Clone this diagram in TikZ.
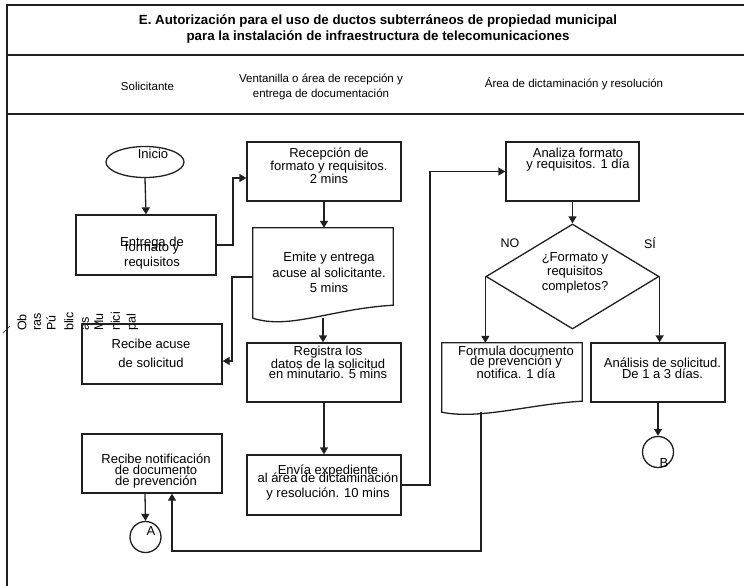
\documentclass[tikz,border=0pt]{standalone}
\usepackage{fontspec}
\setmainfont{Liberation Sans}
\usetikzlibrary{arrows.meta,shapes.geometric,positioning}

\begin{document}
\begin{tikzpicture}[x=1pt,y=-1pt]
  \tikzset{
    linea/.style={draw=gray!25!black,line width=1.3pt},
    marco/.style={draw=gray!25!black,line width=1.8pt},
    caja/.style={linea,rectangle,inner sep=0pt},
    txt/.style={align=center,inner sep=0pt,font=\fontsize{13}{15}\selectfont},
    hdr/.style={align=center,inner sep=0pt,font=\fontsize{11.5}{14.5}\selectfont},
    flujo/.style={linea,-{Triangle[length=7pt,width=8pt]}},
    conector/.style={linea,circle,minimum size=31pt,inner sep=0pt},
  }
  \useasboundingbox (0,0) rectangle (744,586);
  % marco y encabezados
  \draw[marco] (744,5) -- (7,5) -- (7,586);
  \draw[marco] (7,55) -- (744,55);
  \draw[marco] (7,114) -- (744,114);
  \node[align=center,inner sep=0pt,font=\bfseries\fontsize{13.3}{16}\selectfont] (titulo) at (378,29)
    {E. Autorización para el uso de ductos subterráneos de propiedad municipal\\para la instalación de infraestructura de telecomunicaciones};
  \node[hdr] (solicitante) at (147.5,86) {Solicitante};
  \node[hdr] (ventanilla) at (321,87) {Ventanilla o área de recepción y\\entrega de documentación};
  \node[hdr] (dictamen) at (574,84) {Área de dictaminación y resolución};
  % texto vertical
  \foreach \x/\t in {22/Ob,37.5/ras,51/Pú,69/blic,85.5/as,99/Mu,115.5/nici,132.5/pal}
    \node[rotate=90,anchor=west,inner sep=0pt,font=\fontsize{12.5}{14}\selectfont] (obras-\x) at (\x,331) {\t};
  \draw[line width=0.6pt,gray!25!black] (3,333) -- (10,326);

  % Solicitante
  \node[linea,ellipse,minimum width=78pt,minimum height=31pt,inner sep=0pt] (inicio) at (145,162) {};
  \node[txt] (inicioT) at (153,154) {Inicio};
  \node[caja,minimum width=140pt,minimum height=60pt] (entrega) at (146,245) {};
  \node[txt] (entregaT) at (152,253) {Entrega de\\[-10pt]formato y\\requisitos};
  \node[caja,minimum width=140pt,minimum height=60pt] (acuse) at (152,354) {};
  \node[txt,font=\fontsize{13}{19}\selectfont] (acuseT) at (151,353) {Recibe acuse\\de solicitud};
  \node[caja,minimum width=140pt,minimum height=59pt] (notif) at (152,463.5) {};
  \node[txt,font=\fontsize{13}{7.5}\selectfont] (notifT) at (156,471) {Recibe notificación\\de documento\\de prevención};
  \node[conector] (conA) at (145.5,537) {};
  \node[font=\fontsize{13}{15}\selectfont,inner sep=0pt] (letraA) at (151,531) {A};

  % Ventanilla
  \node[caja,minimum width=154pt,minimum height=59pt] (recep) at (324,171.5) {};
  \node[txt,font=\fontsize{13}{11}\selectfont] (recepT) at (329,166) {Recepción de\\formato y requisitos.\\2 mins};
  \node[minimum width=140pt,minimum height=90pt,inner sep=0pt] (emite) at (323,273) {};
  \draw[linea] (emite.south west) -- (emite.north west) -- (emite.north east) -- ([yshift=13pt]emite.south east)
    .. controls (330,309) and (290,330) .. (emite.south west) -- cycle;
  \node[txt,font=\fontsize{13}{15.5}\selectfont] (emiteT) at (329,272.5) {Emite y entrega\\acuse al solicitante.\\5 mins};
  \node[caja,minimum width=154pt,minimum height=59pt] (registra) at (324,372.5) {};
  \node[txt,font=\fontsize{13}{10}\selectfont] (registraT) at (328,362) {Registra los\\datos de la solicitud\\en minutario. 5 mins};
  \node[caja,minimum width=154pt,minimum height=60pt] (envia) at (324,485) {};
  \node[txt] (enviaT) at (328,483) {Envía expediente\\[-7pt]al área de dictaminación\\y resolución. 10 mins};

  % Dictaminacion
  \node[caja,minimum width=133pt,minimum height=59pt] (analiza) at (572.5,171.5) {};
  \node[txt,font=\fontsize{13}{11}\selectfont] (analizaT) at (578,160) {Analiza formato\\y requisitos. 1 día};
  \node[linea,diamond,minimum width=173pt,minimum height=105pt,inner sep=0pt] (dec) at (572.5,276.5) {};
  \node[txt,font=\fontsize{13}{14.5}\selectfont] (decT) at (575,272.5) {¿Formato y\\requisitos\\completos?};
  \node[font=\fontsize{12.5}{15}\selectfont,inner sep=0pt] (no) at (510,243) {NO};
  \node[font=\fontsize{12.5}{15}\selectfont,inner sep=0pt] (si) at (650,243) {SÍ};
  \node[minimum width=140pt,minimum height=69pt,inner sep=0pt] (formula) at (512,377.5) {};
  \draw[linea] (formula.south west) -- (formula.north west) -- (formula.north east) -- ([yshift=11pt]formula.south east)
    .. controls (530,404) and (480,420) .. (formula.south west) -- cycle;
  \node[txt,font=\fontsize{13}{10}\selectfont] (formulaT) at (516,362) {Formula documento\\de prevención y\\notifica. 1 día};
  \node[caja,minimum width=134pt,minimum height=59pt] (analisis) at (658,372.5) {};
  \node[txt,font=\fontsize{13}{9}\selectfont] (analisisT) at (662.5,368) {Análisis de solicitud.\\De 1 a 3 días.};
  \node[conector] (conB) at (658,452) {};
  \node[font=\fontsize{13}{15}\selectfont,inner sep=0pt] (letraB) at (664,463) {B};

  % flechas
  \draw[flujo] (inicio.south) -- (entrega.north);
  \draw[flujo] (entrega.east) -- (233,245) |- ([yshift=-6.5pt]recep.west);
  \draw[flujo] (recep.south) -- (recep.south |- emite.north);
  \draw[flujo] ([yshift=-4pt]emite.west) -- (232,277) |- ([yshift=-7pt]acuse.east);
  \draw[flujo] (emite.south) -- (emite.south |- registra.north);
  \draw[flujo] (registra.south) -- (envia.north);
  \draw[flujo] (envia.east) -- (430,485) |- (analiza.west);
  \draw[flujo] (analiza.south) -- (dec.north);
  \draw[flujo] (dec.west) -- (dec.west |- formula.north);
  \draw[flujo] (dec.east) -- (dec.east |- analisis.north);
  \draw[flujo] (analisis.south) -- (conB.north);
  \draw[flujo] ([xshift=-31pt]formula.south) -- (481,551) -| ([xshift=20pt]notif.south);
  \draw[flujo] ([xshift=-7pt]notif.south) -- (conA.north);
\end{tikzpicture}
\end{document}
